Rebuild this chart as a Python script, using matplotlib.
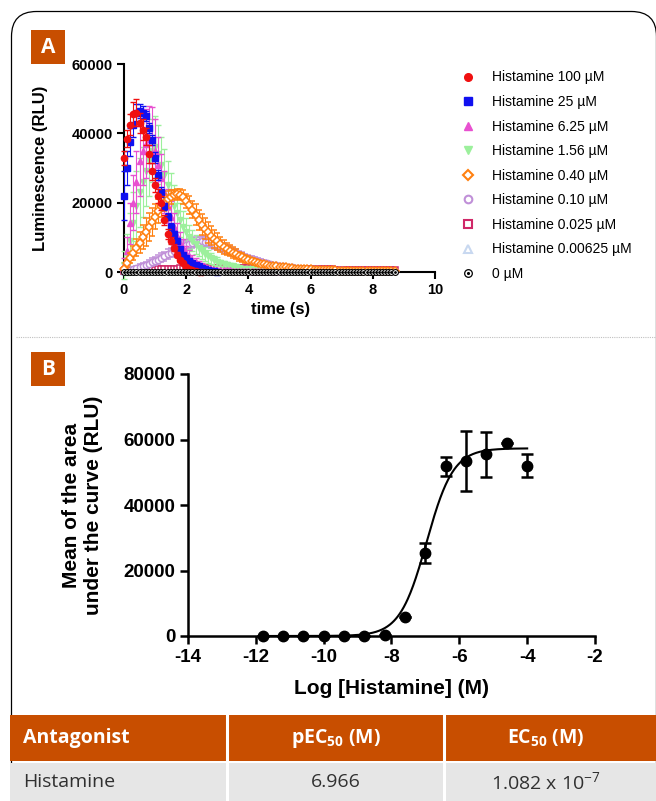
import numpy as np
import matplotlib
matplotlib.use("Agg")
import matplotlib.pyplot as plt
from matplotlib.patches import FancyBboxPatch, Rectangle
from matplotlib.lines import Line2D

plt.rcParams['font.family'] = ['Liberation Sans', 'DejaVu Sans']
plt.rcParams['font.weight'] = 'bold'
plt.rcParams['axes.labelweight'] = 'bold'
plt.rcParams['mathtext.fontset'] = 'custom'
plt.rcParams['mathtext.rm'] = 'Open Sans'
plt.rcParams['mathtext.bf'] = 'Open Sans:bold'
plt.rcParams['mathtext.default'] = 'regular'

W, H = 656, 801
BRAND = '#C84E00'

# ---------------- panel A: luminescence kinetics (thousands of RLU) ----------------
SAMPLE_STEP = 0.1  # s between reads

red_100 = [33, 38.5, 42.5, 45.5, 46, 43, 41, 39, 34, 29,
           25, 22, 20, 15, 11, 9, 7, 5, 3.5, 2.5,
           1.5, 1, 0.6, 0.3, 0.1, 0]
red_100_sem = [2, 2.5, 3, 3.5, 4, 3, 3, 2.5, 2.5, 2.5,
               2, 2, 2, 1.5, 1.5, 1, 1, 0.8, 0.6, 0.5,
               0.4, 0.3, 0.2, 0.2, 0.1, 0]

blue_25 = [22, 30, 37.5, 42.5, 46, 46.5, 46, 45, 41.5, 38,
           33, 28, 23, 19, 16, 13, 11, 9, 6.5, 5,
           4, 3.2, 2.5, 2, 1.6, 1.2, 0.9, 0.6, 0.4, 0.2,
           0.1]
blue_25_sem = [7, 5, 4, 3.5, 2.5, 2, 2, 1.5, 1.5, 1.5,
               1.5, 1.5, 1.5, 1, 1, 1, 0.8, 0.8, 0.6, 0.5,
               0.5, 0.4, 0.3, 0.3, 0.2, 0.2, 0.2, 0.1, 0.1, 0.1,
               0.1]

mag_625 = [2, 6, 14, 20, 26, 32, 35, 37, 38.5, 38,
           35, 31, 27, 23, 19, 16, 13, 10.5, 8.5, 7,
           5.5, 4.5, 3.5, 2.8, 2.2, 1.7, 1.3, 1, 0.8, 0.7,
           0.6, 0.55, 0.5, 0.5, 0.45, 0.4, 0.4, 0.35, 0.35, 0.3,
           0.3, 0.3, 0.25, 0.25, 0.25, 0.2, 0.2, 0.2, 0.2, 0.2,
           0.2]
mag_625_sem = [2, 4, 6, 8, 9, 10, 10, 10, 9.5, 9.5,
               9, 8, 7, 6, 5, 4.5, 4, 3.5, 3, 2.5,
               2, 1.8, 1.5, 1.2, 1, 0.8, 0.6, 0.5, 0.4, 0.4,
               0.3, 0.3, 0.3, 0.3, 0.3, 0.3, 0.3, 0.3, 0.3, 0.3,
               0.3, 0.3, 0.3, 0.3, 0.3, 0.3, 0.3, 0.3, 0.3, 0.3,
               0.3]

green_156 = [2, 5, 9, 14, 19, 23, 26, 29, 32, 35,
             36, 34, 31, 28, 25, 22, 19, 17, 15, 13,
             11.5, 10, 9, 8, 7, 6, 5.2, 4.5, 3.9, 3.4,
             3, 2.6, 2.3, 2, 1.8, 1.6, 1.4, 1.2, 1, 0.9,
             0.8, 0.75, 0.7, 0.65, 0.6, 0.55, 0.5, 0.5, 0.45, 0.4,
             0.4, 0.35, 0.35, 0.3, 0.3, 0.3, 0.25, 0.25, 0.2, 0.2,
             0.2]
green_156_sem = [4, 6, 8, 9, 10, 10, 10, 10, 10, 9,
                 9, 8.5, 8, 7.5, 7, 6.5, 6, 5.5, 5, 4.5,
                 4, 3.5, 3, 2.8, 2.5, 2.2, 2, 1.8, 1.5, 1.3,
                 1.2, 1, 0.9, 0.8, 0.7, 0.6, 0.5, 0.5, 0.4, 0.4,
                 0.3, 0.3, 0.3, 0.3, 0.3, 0.3, 0.3, 0.3, 0.3, 0.3,
                 0.3, 0.3, 0.3, 0.3, 0.3, 0.3, 0.3, 0.3, 0.3, 0.3,
                 0.3]

orange_040 = [1, 2.5, 4, 5.5, 7, 8.5, 10, 11.5, 13, 14.5,
              16, 17.5, 19, 20, 21, 21.7, 22.2, 22.5, 22.3, 21.7,
              20.5, 19.3, 18, 16.5, 15, 13.7, 12.5, 11.5, 10.5, 9.6,
              8.8, 8, 7.3, 6.7, 6.1, 5.6, 5.1, 4.6, 4.2, 3.8,
              3.5, 3.2, 2.9, 2.6, 2.4, 2.2, 2, 1.8, 1.7, 1.6,
              1.5, 1.4, 1.3, 1.2, 1.1, 1, 0.95, 0.9, 0.85, 0.8,
              0.75, 0.7, 0.65, 0.6, 0.55, 0.5, 0.5, 0.45, 0.45, 0.4,
              0.4, 0.4, 0.35, 0.35, 0.35, 0.3, 0.3, 0.3, 0.3, 0.25,
              0.25, 0.25, 0.25, 0.2, 0.2, 0.2, 0.2, 0.2]
orange_040_sem = [0.5, 1, 1.5, 2, 2.5, 3, 3.5, 4, 4, 4,
                  3.5, 3.5, 3, 2.5, 2.5, 2, 1.5, 1.5, 1.5, 2,
                  2, 2.5, 2.5, 3, 3, 3, 3, 3, 2.8, 2.6,
                  2.4, 2.2, 2, 1.8, 1.6, 1.5, 1.4, 1.3, 1.2, 1.1,
                  1, 0.9, 0.8, 0.8, 0.7, 0.7, 0.6, 0.6, 0.5, 0.5,
                  0.4, 0.4, 0.4, 0.4, 0.4, 0.4, 0.4, 0.4, 0.4, 0.4,
                  0.4, 0.4, 0.4, 0.4, 0.4, 0.4, 0.4, 0.4, 0.4, 0.4,
                  0.3, 0.3, 0.3, 0.3, 0.3, 0.3, 0.3, 0.3, 0.3, 0.3,
                  0.3, 0.3, 0.3, 0.3, 0.3, 0.3, 0.3, 0.3]

purple_010 = [0.3, 0.5, 0.7, 0.9, 1.1, 1.4, 1.7, 2, 2.4, 2.8,
              3.2, 3.6, 4.1, 4.6, 5.1, 5.6, 6.1, 6.6, 7, 7.4,
              7.8, 8.1, 8.4, 8.6, 8.7, 8.8, 8.7, 8.6, 8.4, 8.1,
              7.8, 7.4, 7, 6.6, 6.2, 5.8, 5.4, 5, 4.6, 4.3,
              4, 3.7, 3.4, 3.1, 2.9, 2.7, 2.5, 2.3, 2.1, 1.9,
              1.8, 1.6, 1.5, 1.4, 1.3, 1.2, 1.1, 1, 0.95, 0.9,
              0.85, 0.8, 0.75, 0.7, 0.65, 0.6, 0.55, 0.5, 0.5, 0.45,
              0.45, 0.4, 0.4, 0.35, 0.35, 0.3, 0.3, 0.3, 0.3, 0.25,
              0.25, 0.25, 0.25, 0.2, 0.2, 0.2, 0.2, 0.2]
purple_010_sem = [0.3, 0.4, 0.5, 0.6, 0.7, 0.8, 0.9, 1, 1, 1.1,
                  1.2, 1.2, 1.3, 1.3, 1.4, 1.4, 1.5, 1.5, 1.5, 1.5,
                  1.5, 1.5, 1.5, 1.5, 1.5, 1.5, 1.5, 1.5, 1.5, 1.5,
                  1.5, 1.4, 1.4, 1.3, 1.3, 1.2, 1.2, 1.1, 1.1, 1,
                  1, 0.9, 0.9, 0.8, 0.8, 0.7, 0.7, 0.6, 0.6, 0.5,
                  0.5, 0.5, 0.5, 0.5, 0.5, 0.5, 0.5, 0.5, 0.5, 0.5,
                  0.4, 0.4, 0.4, 0.4, 0.4, 0.4, 0.4, 0.4, 0.4, 0.4,
                  0.3, 0.3, 0.3, 0.3, 0.3, 0.3, 0.3, 0.3, 0.3, 0.3,
                  0.3, 0.3, 0.3, 0.3, 0.3, 0.3, 0.3, 0.3]

crimson_0025 = [0.2, 0.25, 0.3, 0.35, 0.4, 0.45, 0.5, 0.55, 0.6, 0.65,
                0.7, 0.75, 0.8, 0.85, 0.9, 0.95, 1, 1, 1.05, 1.1,
                1.1, 1.15, 1.15, 1.2, 1.2, 1.2, 1.2, 1.2, 1.2, 1.2,
                1.2, 1.2, 1.2, 1.2, 1.2, 1.15, 1.15, 1.15, 1.15, 1.1,
                1.1, 1.1, 1.1, 1.05, 1.05, 1.05, 1, 1, 1, 1,
                0.95, 0.95, 0.95, 0.9, 0.9, 0.9, 0.9, 0.85, 0.85, 0.85,
                0.85, 0.8, 0.8, 0.8, 0.8, 0.75, 0.75, 0.75, 0.7, 0.7,
                0.7, 0.7, 0.65, 0.65, 0.65, 0.6, 0.6, 0.6, 0.6, 0.55,
                0.55, 0.55, 0.5, 0.5, 0.5, 0.5, 0.45, 0.45]
crimson_0025_sem = 0.3

pale_000625 = [0.1, 0.15, 0.2, 0.2, 0.25, 0.25, 0.3, 0.3, 0.3, 0.35,
               0.35, 0.35, 0.4, 0.4, 0.4, 0.4, 0.4, 0.4, 0.4, 0.4,
               0.4, 0.4, 0.4, 0.4, 0.4, 0.4, 0.4, 0.4, 0.4, 0.4,
               0.4, 0.4, 0.4, 0.4, 0.4, 0.4, 0.4, 0.4, 0.4, 0.4,
               0.35, 0.35, 0.35, 0.35, 0.35, 0.35, 0.35, 0.35, 0.35, 0.35,
               0.35, 0.35, 0.35, 0.35, 0.35, 0.35, 0.35, 0.35, 0.35, 0.35,
               0.3, 0.3, 0.3, 0.3, 0.3, 0.3, 0.3, 0.3, 0.3, 0.3,
               0.3, 0.3, 0.3, 0.3, 0.3, 0.3, 0.3, 0.3, 0.3, 0.3,
               0.25, 0.25, 0.25, 0.25, 0.25, 0.25, 0.25, 0.25]
pale_000625_sem = 0.1

zero_um = [0, 0, 0, 0, 0, 0, 0, 0, 0, 0,
           0, 0, 0, 0, 0, 0, 0, 0, 0, 0,
           0, 0, 0, 0, 0, 0, 0, 0, 0, 0,
           0, 0, 0, 0, 0, 0, 0, 0, 0, 0,
           0, 0, 0, 0, 0, 0, 0, 0, 0, 0,
           0, 0, 0, 0, 0, 0, 0, 0, 0, 0,
           0, 0, 0, 0, 0, 0, 0, 0, 0, 0,
           0, 0, 0, 0, 0, 0, 0, 0, 0, 0,
           0, 0, 0, 0, 0, 0, 0, 0]

# label, values, sem, color, marker, filled, markersize
series_a = [
    ("Histamine 100 µM", red_100, red_100_sem, '#F01010', 'o', True, 4.5),
    ("Histamine 25 µM", blue_25, blue_25_sem, '#1010F0', 's', True, 4.5),
    ("Histamine 6.25 µM", mag_625, mag_625_sem, '#E850D0', '^', True, 4.5),
    ("Histamine 1.56 µM", green_156, green_156_sem, '#9CF09C', 'v', True, 4.5),
    ("Histamine 0.40 µM", orange_040, orange_040_sem, '#FF8010', 'D', False, 4.0),
    ("Histamine 0.10 µM", purple_010, purple_010_sem, '#C090D8', 'o', False, 4.5),
    ("Histamine 0.025 µM", crimson_0025, crimson_0025_sem, '#D02868', 's', False, 4.0),
    ("Histamine 0.00625 µM", pale_000625, pale_000625_sem, '#C8D8F0', '^', False, 4.0),
]
zero_label = "0 µM"
draw_order = [7, 6, 5, 3, 2, 4, 1, 0]

# ---------------- panel B: concentration-response ----------------
log_conc = [-11.8, -11.2, -10.6, -10.0, -9.4, -8.8, -8.2, -7.6, -7.0, -6.4, -5.8, -5.2, -4.6, -4.0]
auc_mean = [0, 0, 0, 0, 0, 0, 400, 5800, 25300, 51800, 53500, 55500, 59000, 52000]
auc_sem = [0, 0, 0, 0, 0, 0, 0, 0, 3000, 3000, 9200, 6800, 0, 3600]
fit_top = 57300
fit_log_ec50 = -6.966
fit_hill = 1.1

# ---------------- table ----------------
table_header = ["Antagonist", r"pEC$_{\mathbf{50}}$ (M)", r"EC$_{\mathbf{50}}$ (M)"]
table_row = ["Histamine", "6.966", r"1.082 x 10$^{-7}$"]


def axes_rect(x0, y0, x1, y1):
    return [x0 / W, 1 - y1 / H, (x1 - x0) / W, (y1 - y0) / H]


fig = plt.figure(figsize=(W / 100, H / 100), dpi=100)

# background layer in pixel coordinates
bg = fig.add_axes([0, 0, 1, 1], zorder=-1)
bg.set_xlim(0, W)
bg.set_ylim(H, 0)
bg.axis('off')
bg.add_patch(FancyBboxPatch((11.5, 11.5), 645, 900, boxstyle='round,pad=0,rounding_size=25',
                            fc='none', ec='black', lw=0.9))
bg.plot([16, W], [337, 337], ls=(0, (1, 1)), color='#C0C0C0', lw=0.8)
for letter, top in [("A", 30), ("B", 352)]:
    bg.add_patch(Rectangle((31, top), 34, 34, fc=BRAND, ec='none'))
    bg.text(48, top + 17.5, letter, ha='center', va='center', color='white',
            fontsize=15, fontweight='bold', family='Open Sans')

# table
bg.add_patch(Rectangle((10, 715), W - 10, 46, fc=BRAND, ec='none', zorder=3))
bg.add_patch(Rectangle((10, 763), W - 10, 40, fc='#E6E6E6', ec='none', zorder=3))
for xs in [227, 444]:
    bg.plot([xs, xs], [715, 801], color='white', lw=2.2, zorder=4)
col_x = [23, 336, 546]
col_ha = ['left', 'center', 'center']
for txt, x, ha in zip(table_header, col_x, col_ha):
    bg.text(x, 738, txt, ha=ha, va='center', color='white', fontsize=14,
            fontweight='bold', family='Open Sans', zorder=5)
for txt, x, ha in zip(table_row, col_x, col_ha):
    bg.text(x, 782, txt, ha=ha, va='center', color='#303030', fontsize=14,
            fontweight='normal', family='Open Sans', zorder=5)

# ---------------- panel A ----------------
axA = fig.add_axes(axes_rect(124, 64, 435, 272))
axA.set_facecolor('none')
for idx in draw_order:
    label, vals, sem, color, marker, filled, ms = series_a[idx]
    t = np.arange(len(vals)) * SAMPLE_STEP
    v = np.asarray(vals) * 1000
    e = np.asarray(sem) * 1000
    axA.errorbar(t, v, yerr=e, fmt=marker, color=color, ms=ms,
                 mfc=color if filled else 'white', mec=color, mew=1.0 if filled else 1.1,
                 elinewidth=0.8, capsize=2.2, capthick=0.8, clip_on=False, zorder=3 + draw_order.index(idx) * 0.1)
t0 = np.arange(len(zero_um)) * SAMPLE_STEP
axA.plot(t0, np.asarray(zero_um) * 1000, 'o', color='black', mfc='white', mec='black', ms=4.2,
         mew=0.8, clip_on=False, zorder=5)
axA.plot(t0, np.asarray(zero_um) * 1000, '.', color='black', ms=2.0, clip_on=False, zorder=5.1)

axA.set_xlim(0, 10)
axA.set_ylim(0, 60000)
axA.set_xticks([0, 2, 4, 6, 8, 10])
axA.set_yticks([0, 20000, 40000, 60000])
for s in ['top', 'right']:
    axA.spines[s].set_visible(False)
for s in ['left', 'bottom']:
    axA.spines[s].set_linewidth(1.5)
axA.tick_params(direction='out', length=5, width=1.5, labelsize=10.5, pad=3)
axA.set_xlabel("time (s)", fontsize=12)
axA.set_ylabel("Luminescence (RLU)", fontsize=12)
axA.xaxis.set_label_coords(0.505, -0.145)
axA.yaxis.set_label_coords(-0.245, 0.5)

handles = []
labels = []
for label, vals, sem, color, marker, filled, ms in series_a:
    handles.append(Line2D([], [], ls='none', marker=marker, color=color, ms=5.5,
                          mfc=color if filled else 'white', mec=color, mew=1.5 if not filled else 1.0))
    labels.append(label)
handles.append((Line2D([], [], ls='none', marker='o', mfc='white', mec='black', ms=5.5, mew=0.9),
                Line2D([], [], ls='none', marker='.', color='black', ms=2.5)))
labels.append(zero_label)
fig.legend(handles, labels, loc='upper left', bbox_to_anchor=(461 / W, 1 - 70.5 / H),
           frameon=False, prop={'size': 10, 'weight': 'normal'}, handlelength=1.0,
           handletextpad=1.2, labelspacing=0.76, borderpad=0, borderaxespad=0)

# ---------------- panel B ----------------
axB = fig.add_axes(axes_rect(188, 374, 595, 636))
axB.set_facecolor('none')
axB.errorbar(log_conc, auc_mean, yerr=auc_sem, fmt='o', color='black', ms=7.5,
             elinewidth=1.8, capsize=4.5, capthick=1.8, clip_on=False, zorder=3)
xs = np.linspace(log_conc[0], log_conc[-1], 400)
axB.plot(xs, fit_top / (1 + 10 ** ((fit_log_ec50 - xs) * fit_hill)), color='black', lw=1.5, zorder=2)
axB.set_xlim(-14, -2)
axB.set_ylim(0, 80000)
axB.set_xticks([-14, -12, -10, -8, -6, -4, -2])
axB.set_yticks([0, 20000, 40000, 60000, 80000])
axB.set_xticklabels(["-14", "-12", "-10", "-8", "-6", "-4", "-2"])
for s in ['top', 'right']:
    axB.spines[s].set_visible(False)
for s in ['left', 'bottom']:
    axB.spines[s].set_linewidth(1.8)
axB.tick_params(direction='out', length=6, width=1.8, labelsize=13.5, pad=3)
axB.set_xlabel("Log [Histamine] (M)", fontsize=15)
axB.set_ylabel("Mean of the area\nunder the curve (RLU)", fontsize=15, linespacing=1.2)
axB.xaxis.set_label_coords(0.5, -0.165)
axB.yaxis.set_label_coords(-0.21, 0.5)

fig.savefig("out.png", dpi=100)
